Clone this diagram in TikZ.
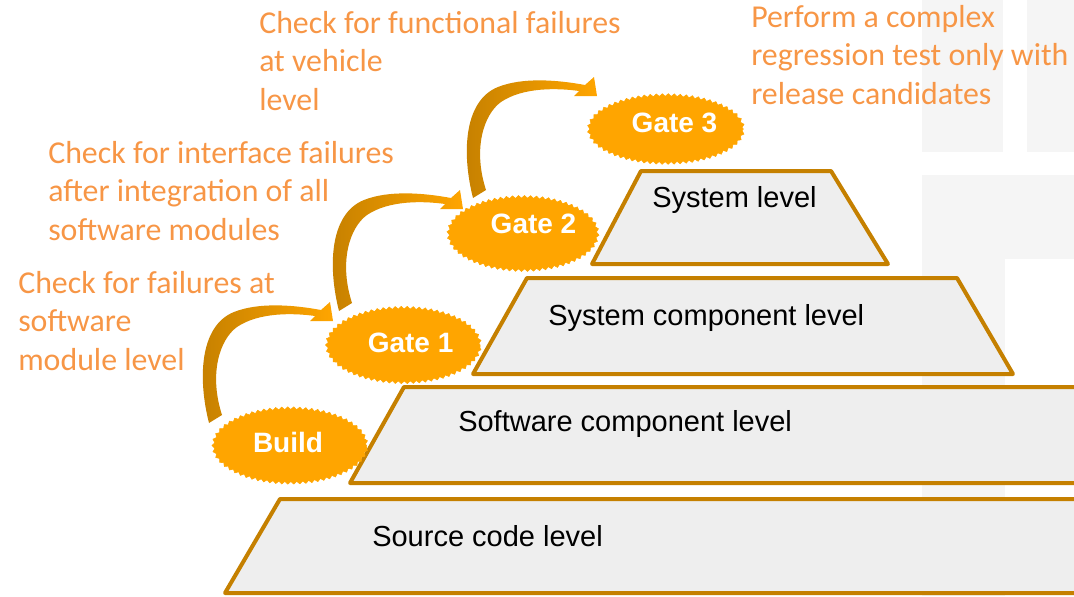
\documentclass[tikz,border=0pt]{standalone}
\usepackage{fontspec}
\setmainfont{Liberation Sans}
\newfontfamily\notefont{Carlito}
\usetikzlibrary{shapes.geometric, decorations.pathmorphing}

\definecolor{gateorange}{RGB}{255,165,0}
\definecolor{leveledge}{RGB}{197,128,0}
\definecolor{levelfill}{RGB}{238,238,238}
\definecolor{noteorange}{RGB}{247,150,70}
\definecolor{backgray}{RGB}{245,245,245}

\begin{document}
\begin{tikzpicture}[
    % GLOBAL CFG (one unit = one pixel of the slide, y downwards)
    x=0.75pt, y=-0.75pt,
    % Styles
    level/.style={% For the pyramid steps
        draw=leveledge,
        line width=3pt,
        fill=levelfill,
        line join=round,
        },
    leveltext/.style={% Caption of a step
        anchor=base west,
        inner sep=0pt,
        font=\fontsize{21.75}{26}\selectfont,
        },
    gate/.style={% For the orange gates
        ellipse,
        fill=gateorange,
        draw=gateorange,
        inner sep=0pt,
        minimum width=115pt,
        minimum height=56pt,
        decorate,
        decoration={zigzag, segment length=4.5pt, amplitude=1pt},
        },
    gatetext/.style={% Text inside a gate
        text=white,
        font=\bfseries\fontsize{21}{25}\selectfont,
        },
    note/.style={% Orange remarks
        anchor=north west,
        inner sep=0pt,
        align=left,
        text=noteorange,
        font=\notefont\fontsize{23.9}{28.9}\selectfont,
        },
    ]
% Macro for the curved arrow between two gates
\newcommand{\GateArrow}[1]{
    \shade[left color=leveledge, right color=gateorange, shift={(#1)}]
        (-5,3) .. controls (-16,-40) and (-15,-94) .. (20,-108)
        .. controls (45,-118) and (80,-115) .. (107,-110)
        -- (116,-118) -- (119,-99) -- (96,-99) -- (101,-104)
        .. controls (80,-107) and (45,-108) .. (23,-93)
        .. controls (5,-80) and (-5,-45) .. (8,-5) -- cycle;
}
\useasboundingbox (0,0) rectangle (1074,596);
\clip (0,0) rectangle (1074,596);
% Background blocks
\fill[backgray] (922,0) rectangle (1003,152);
\fill[backgray] (1027,0) rectangle (1074,152);
\fill[backgray] (922,175) rectangle (1074,259);
\fill[backgray] (922,259) rectangle (1005,596);
% Pyramid steps
\draw[level] (641,171) -- (831,171) -- (888,264) -- (592,264) -- cycle;
\draw[level] (527,278) -- (957,278) -- (1013,374) -- (473,374) -- cycle;
\draw[level] (404,387) -- (1090,387) -- (1090,483) -- (350,483) -- cycle;
\draw[level] (280,499) -- (1090,499) -- (1090,593) -- (225,593) -- cycle;
\node[leveltext] (syslevel) at (652,207) {System level};
\node[leveltext] (complevel) at (548,325) {System component level};
\node[leveltext] (swlevel) at (458,431) {Software component level};
\node[leveltext] (srclevel) at (372,546) {Source code level};
% Arrows
\coordinate (buildout) at (214,420);
\coordinate (gate1out) at (344,308);
\coordinate (gate2out) at (478,195);
\GateArrow{buildout}
\GateArrow{gate1out}
\GateArrow{gate2out}
% Gates
\node[gate, label={[gatetext, xshift=-1.5pt, yshift=1.9pt]center:Build}] (build) at (290,445.5) {};
\node[gate, label={[gatetext, xshift=5.3pt, yshift=1.9pt]center:Gate 1}] (gate1) at (403.5,345) {};
\node[gate, minimum width=112pt, minimum height=55pt, label={[gatetext, xshift=7.9pt, yshift=7pt]center:Gate 2}] (gate2) at (523,233.5) {};
\node[gate, minimum width=116pt, minimum height=51pt, label={[gatetext, xshift=6.4pt, yshift=4.5pt]center:Gate 3}] (gate3) at (666,129) {};
% Remarks
\node[note] (notebuild) at (18,271) {Check for failures at\\software\\module level};
\node[note] (notegate1) at (48,141) {Check for interface failures\\after integration of all\\software modules};
\node[note] (notegate2) at (259,11) {Check for functional failures\\at vehicle\\level};
\node[note] (notegate3) at (751,5) {Perform a complex\\regression test only with\\release candidates};
\end{tikzpicture}
\end{document}
